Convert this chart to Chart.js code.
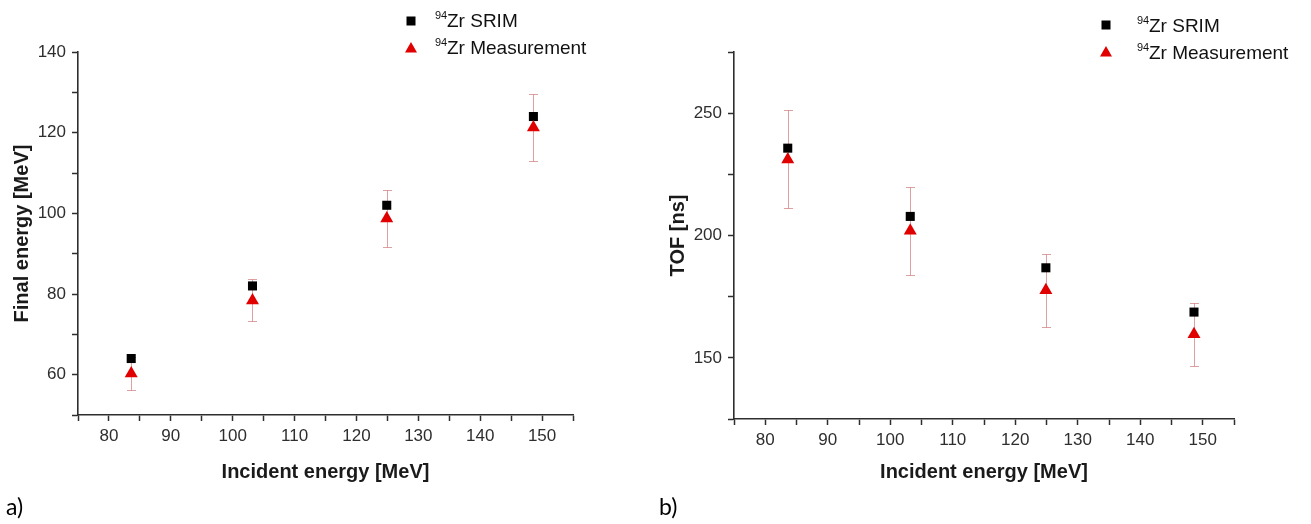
<!DOCTYPE html>
<html>
<head>
<meta charset="utf-8">
<title>94Zr energy and TOF</title>
<script src="https://cdn.jsdelivr.net/npm/chart.js@4.4.1/dist/chart.umd.min.js"></script>
<style>
  html, body { margin: 0; padding: 0; background: #fff; }
  body { width: 1311px; height: 524px; position: relative; overflow: hidden; }
  .panel { position: absolute; top: 0; }
  .panel canvas { display: block; }
  .tag { position: absolute; font-family: Lato, "Open Sans", sans-serif; font-size: 23px; color: #000; line-height: 1; }
</style>
</head>
<body>
<div class="panel" style="left:0"><canvas id="chart-a" width="655" height="524"></canvas></div>
<div class="panel" style="left:655px"><canvas id="chart-b" width="656" height="524"></canvas></div>
<div class="tag" style="left:6px;top:495px">a)</div>
<div class="tag" style="left:659px;top:495px">b)</div>
<script>
// data
const incidentEnergy = [83.6, 103.2, 124.9, 148.6];

const finalSrim = [64, 82, 102, 124];
const finalMeas = [60.3, 78.4, 98.7, 121.3];
const finalErr = [4, 5.2, 7, 8.3];

const tofSrim = [235.7, 207.8, 186.8, 168.7];
const tofMeas = [231.1, 201.9, 177.6, 159.6];
const tofErr = [20, 18, 15, 13];

const massNumber = "94";
const seriesNames = ["Zr SRIM", "Zr Measurement"];

const xTickLabels = [80, 90, 100, 110, 120, 130, 140, 150];
const finalTickLabels = [60, 80, 100, 120, 140];
const tofTickLabels = [150, 200, 250];

const FONT = '"Liberation Sans", Arial, sans-serif';
const AXIS = "#2e2e2e";

// vertical error bars, drawn under the markers
const errorBars = {
    id: "errorBars",
    beforeDatasetsDraw(chart, args, opts) {
        const ctx = chart.ctx;
        const xs = chart.scales.x;
        const ys = chart.scales.y;
        chart.data.datasets.forEach((ds) => {
            if (!ds.errors) return;
            ctx.save();
            ctx.strokeStyle = opts.color;
            ctx.lineWidth = opts.width;
            ds.data.forEach((p, i) => {
                const x = Math.round(xs.getPixelForValue(p.x)) + 0.5;
                const top = Math.round(ys.getPixelForValue(p.y + ds.errors[i])) + 0.5;
                const bot = Math.round(ys.getPixelForValue(p.y - ds.errors[i])) + 0.5;
                ctx.beginPath();
                ctx.moveTo(x, top);
                ctx.lineTo(x, bot);
                ctx.moveTo(x - opts.cap, top);
                ctx.lineTo(x + opts.cap, top);
                ctx.moveTo(x - opts.cap, bot);
                ctx.lineTo(x + opts.cap, bot);
                ctx.stroke();
            });
            ctx.restore();
        });
    }
};

// legend with the superscript mass number
const isotopeLegend = {
    id: "isotopeLegend",
    afterDraw(chart, args, opts) {
        const ctx = chart.ctx;
        ctx.save();
        chart.data.datasets.forEach((ds, i) => {
            const cy = opts.y + i * opts.rowGap;
            ctx.fillStyle = ds.backgroundColor;
            if (ds.pointStyle === "rect") {
                ctx.fillRect(opts.x - 4.5, cy - 4.5, 9, 9);
            } else {
                ctx.beginPath();
                ctx.moveTo(opts.x, cy - 6);
                ctx.lineTo(opts.x + 6, cy + 4.5);
                ctx.lineTo(opts.x - 6, cy + 4.5);
                ctx.closePath();
                ctx.fill();
            }
            const base = cy + opts.baseline;
            ctx.fillStyle = "#111";
            ctx.textBaseline = "alphabetic";
            ctx.textAlign = "left";
            ctx.font = "11px " + FONT;
            ctx.fillText(massNumber, opts.textX, base - 8.5);
            ctx.font = "19px " + FONT;
            ctx.fillText(seriesNames[i], opts.textX + 12, base);
        });
        ctx.restore();
    }
};

function tickCallback(labels) {
    return (value) => (labels.includes(value) ? value : "");
}

function buildPanel(canvasId, cfg) {
    const axisCommon = {
        type: "linear",
        border: { display: true, color: AXIS, width: 1.6 },
        grid: { drawOnChartArea: false, drawTicks: true, tickLength: 6, tickColor: AXIS, tickWidth: 1.5 }
    };
    return new Chart(document.getElementById(canvasId), {
        type: "scatter",
        data: {
            datasets: [
                {
                    label: massNumber + seriesNames[0],
                    data: incidentEnergy.map((x, i) => ({ x: x, y: cfg.srim[i] })),
                    pointStyle: "rect",
                    pointRadius: 6.4,
                    backgroundColor: "#000",
                    borderWidth: 0,
                    order: 1
                },
                {
                    label: massNumber + seriesNames[1],
                    data: incidentEnergy.map((x, i) => ({ x: x, y: cfg.meas[i] })),
                    errors: cfg.err,
                    pointStyle: "triangle",
                    pointRadius: 7.5,
                    backgroundColor: "#e00000",
                    borderWidth: 0,
                    order: 0
                }
            ]
        },
        options: {
            responsive: false,
            animation: false,
            devicePixelRatio: 1,
            layout: { padding: cfg.padding },
            plugins: {
                legend: { display: false },
                tooltip: { enabled: false },
                errorBars: { color: "rgba(205, 110, 110, 0.65)", width: 1, cap: 4.5 },
                isotopeLegend: cfg.legend
            },
            scales: {
                x: Object.assign({}, axisCommon, {
                    min: 75,
                    max: 155,
                    afterFit: (s) => { s.height = cfg.xHeight; },
                    ticks: {
                        stepSize: 5,
                        autoSkip: false,
                        maxRotation: 0,
                        padding: 5,
                        color: AXIS,
                        font: { family: FONT, size: 17 },
                        callback: tickCallback(xTickLabels)
                    },
                    title: {
                        display: true,
                        text: "Incident energy [MeV]",
                        color: "#1a1a1a",
                        font: { family: FONT, size: 20, weight: "bold" },
                        padding: { top: 0, bottom: 0 }
                    }
                }),
                y: Object.assign({}, axisCommon, {
                    min: cfg.yMin,
                    max: cfg.yMax,
                    afterFit: (s) => { s.width = cfg.yWidth; },
                    ticks: {
                        stepSize: cfg.yStep,
                        autoSkip: false,
                        padding: 6,
                        color: AXIS,
                        font: { family: FONT, size: 17 },
                        callback: tickCallback(cfg.yLabels)
                    },
                    title: {
                        display: true,
                        text: cfg.yTitle,
                        color: "#1a1a1a",
                        font: { family: FONT, size: 20, weight: "bold" },
                        padding: { top: cfg.yTitlePad, bottom: 0 }
                    }
                })
            }
        },
        plugins: [errorBars, isotopeLegend]
    });
}

buildPanel("chart-a", {
    srim: finalSrim,
    meas: finalMeas,
    err: finalErr,
    yMin: 50,
    yMax: 140,
    yStep: 10,
    yLabels: finalTickLabels,
    yTitle: "Final energy [MeV]",
    yTitlePad: 10,
    yWidth: 78,
    xHeight: 69,
    padding: { left: 0, right: 82, top: 52, bottom: 40 },
    legend: { x: 411, y: 21, rowGap: 27, textX: 435, baseline: 6 }
});

buildPanel("chart-b", {
    srim: tofSrim,
    meas: tofMeas,
    err: tofErr,
    yMin: 125,
    yMax: 275,
    yStep: 25,
    yLabels: tofTickLabels,
    yTitle: "TOF [ns]",
    yTitlePad: 11,
    yWidth: 79,
    xHeight: 65,
    padding: { left: 0, right: 77, top: 52, bottom: 40 },
    legend: { x: 451, y: 25, rowGap: 27, textX: 482, baseline: 7 }
});
</script>
</body>
</html>
